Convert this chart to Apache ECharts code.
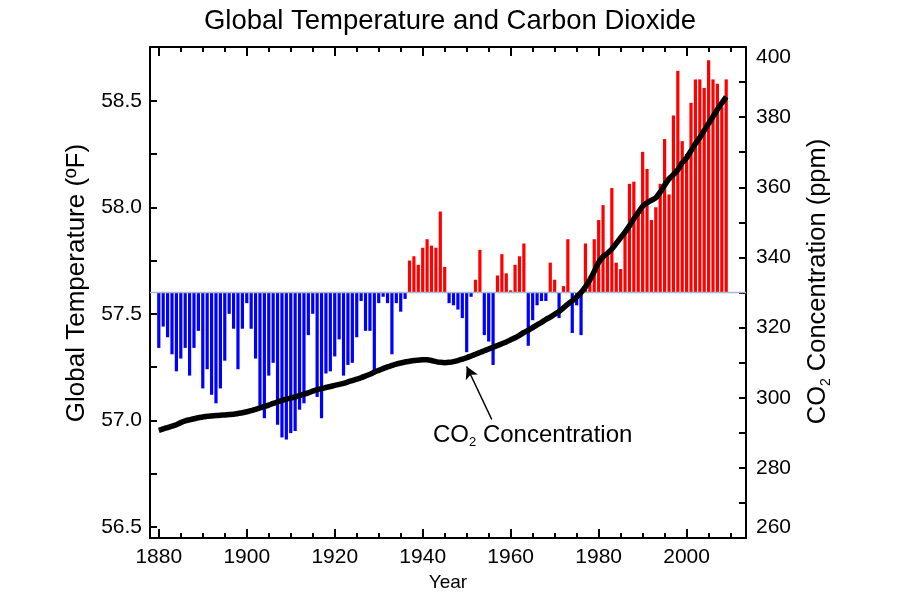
<!DOCTYPE html>
<html><head><meta charset="utf-8">
<script src="https://cdn.jsdelivr.net/npm/echarts@6/dist/echarts.min.js"></script>
<style>html,body{margin:0;padding:0;background:#fff}#c{width:900px;height:600px}</style>
</head><body><div id="c"></div>
<script>
const years = [
1880,1881,1882,1883,1884,1885,1886,1887,1888,1889,
1890,1891,1892,1893,1894,1895,1896,1897,1898,1899,
1900,1901,1902,1903,1904,1905,1906,1907,1908,1909,
1910,1911,1912,1913,1914,1915,1916,1917,1918,1919,
1920,1921,1922,1923,1924,1925,1926,1927,1928,1929,
1930,1931,1932,1933,1934,1935,1936,1937,1938,1939,
1940,1941,1942,1943,1944,1945,1946,1947,1948,1949,
1950,1951,1952,1953,1954,1955,1956,1957,1958,1959,
1960,1961,1962,1963,1964,1965,1966,1967,1968,1969,
1970,1971,1972,1973,1974,1975,1976,1977,1978,1979,
1980,1981,1982,1983,1984,1985,1986,1987,1988,1989,
1990,1991,1992,1993,1994,1995,1996,1997,1998,1999,
2000,2001,2002,2003,2004,2005,2006,2007,2008,2009];

// Global temperature (°F)
const temperature = [
57.34,57.44,57.39,57.31,57.23,57.29,57.34,57.21,57.34,57.42,
57.15,57.24,57.12,57.08,57.15,57.28,57.50,57.43,57.24,57.43,
57.55,57.43,57.29,57.07,57.01,57.21,57.27,56.98,56.92,56.91,
56.94,56.95,57.05,57.08,57.40,57.50,57.11,57.01,57.22,57.23,
57.30,57.38,57.21,57.26,57.27,57.39,57.56,57.42,57.42,57.23,
57.55,57.58,57.55,57.31,57.55,57.51,57.57,57.75,57.77,57.73,
57.81,57.85,57.82,57.81,57.98,57.72,57.55,57.54,57.52,57.48,
57.32,57.58,57.66,57.80,57.40,57.37,57.26,57.68,57.78,57.69,
57.61,57.73,57.77,57.83,57.35,57.47,57.54,57.56,57.56,57.74,
57.66,57.48,57.63,57.85,57.41,57.54,57.40,57.83,57.65,57.85,
57.94,58.01,57.79,58.09,57.74,57.71,57.89,58.11,58.12,57.97,
58.26,58.18,57.94,58.00,58.11,58.32,58.06,58.43,58.64,58.31,
58.25,58.49,58.60,58.60,58.56,58.69,58.60,58.58,58.47,58.60];

// CO2 concentration (ppm)
const co2 = [
290.7,291.1,291.5,291.9,292.3,292.9,293.4,293.7,294.0,294.3,
294.5,294.7,294.8,294.9,295.0,295.1,295.2,295.3,295.5,295.7,
296.0,296.3,296.7,297.1,297.5,297.9,298.4,298.8,299.2,299.6,
299.9,300.2,300.6,301.0,301.4,301.9,302.3,302.6,302.9,303.2,
303.5,303.8,304.1,304.5,304.9,305.3,305.7,306.2,306.7,307.3,
307.8,308.3,308.8,309.2,309.6,309.9,310.2,310.4,310.6,310.7,
310.8,310.8,310.6,310.3,310.1,310.0,310.1,310.3,310.6,311.0,
311.4,311.9,312.4,312.9,313.4,313.9,314.4,314.9,315.4,315.9,
316.5,317.1,317.8,318.6,319.2,320.0,320.8,321.5,322.3,323.0,
323.8,324.6,325.6,326.7,327.6,328.7,330.0,331.6,333.6,336.0,
338.6,340.2,341.2,342.4,344.0,345.6,347.2,349.0,351.0,352.8,
354.6,355.6,356.3,357.0,358.6,360.6,362.4,363.6,365.0,367.0,
368.4,370.4,372.4,374.2,376.2,378.2,380.2,382.2,384.0,385.8];

const baseTemp = 57.6;
const yearTicksMajor = [1880,1900,1920,1940,1960,1980,2000];
const yearTicksMinor = [1880,1885,1890,1895,1900,1905,1910,1915,1920,1925,1930,1935,1940,1945,1950,1955,1960,1965,1970,1975,1980,1985,1990,1995,2000,2005,2010];
const tempTickLabels = [56.5,57.0,57.5,58.0,58.5];
const tempTicks = [56.5,56.75,57.0,57.25,57.5,57.75,58.0,58.25,58.5];
const co2Ticks = [260,270,280,290,300,310,320,330,340,350,360,370,380,390,400];
const annotationText = {at:[1965.0,289.3], arrowFrom:[1955.7,293.8], arrowTo:[1950.0,308.9]};

const X_MIN = 1878, X_MAX = 2013.5;
const T_MIN = 56.448, T_MAX = 58.752;
const FONT = '"Liberation Sans", Arial, sans-serif';

const chart = echarts.init(document.getElementById('c'), null, {renderer:'canvas'});
const black = '#000';
const lineAxis = {show:true, lineStyle:{color:black, width:2}};
function xAx(pos, ticks, len, labels, line){
  return {type:'value', position:pos, min:X_MIN, max:X_MAX,
    axisLine: line ? lineAxis : {show:false},
    axisTick:{show:true, inside:true, length:len, customValues:ticks, lineStyle:{color:black,width:2}},
    axisLabel: labels ? {show:true, customValues:yearTicksMajor, formatter:v=>String(Math.round(v)),
      fontSize:21, color:black, fontFamily:FONT, margin:9} : {show:false},
    splitLine:{show:false}};
}
const xAxes = [
  Object.assign(xAx('bottom', yearTicksMajor, 9, true, true), {name:'Year', nameLocation:'middle', nameGap:35,
     nameTextStyle:{fontSize:19, color:black, fontFamily:FONT}}),
  xAx('bottom', yearTicksMinor, 5, false, false),
  xAx('top', yearTicksMajor, 9, false, true),
  xAx('top', yearTicksMinor, 5, false, false)
];

const option = {
  animation:false,
  backgroundColor:'#fff',
  textStyle:{fontFamily:FONT},
  title:{text:'Global Temperature and Carbon Dioxide', left:'center', top:2,
    textStyle:{fontSize:27.5, fontWeight:'normal', color:black, fontFamily:FONT}},
  grid:{left:150, right:154, top:47, bottom:62, containLabel:false},
  xAxis: xAxes,
  yAxis:[
    {type:'value', position:'left', min:T_MIN, max:T_MAX,
     axisLine:lineAxis,
     axisTick:{show:true, inside:true, length:7, customValues:tempTicks, lineStyle:{color:black,width:2}},
     axisLabel:{show:true, customValues:tempTickLabels, formatter:v=>Number(v).toFixed(1), fontSize:21, color:black, fontFamily:FONT, margin:8},
     splitLine:{show:false},
     name:'Global Temperature (ºF)', nameLocation:'middle', nameRotate:90, nameGap:60,
     nameTextStyle:{fontSize:26, color:black, fontFamily:FONT, padding:[0,0,0,19]}},
    {type:'value', position:'right', min:260, max:400, interval:20,
     axisLine:lineAxis,
     axisTick:{show:true, inside:true, length:7, customValues:co2Ticks, lineStyle:{color:black,width:2}},
     axisLabel:{show:true, fontSize:21, color:black, fontFamily:FONT, margin:10,
       verticalAlignMaxLabel:'top', verticalAlignMinLabel:'bottom'},
     splitLine:{show:false},
     name:'{a|CO}{s|2}{a| Concentration (ppm)}', nameLocation:'middle', nameRotate:90, nameGap:57,
     nameTextStyle:{color:black, fontFamily:FONT, padding:[0,0,0,22],
       rich:{a:{fontSize:25.5, color:black, fontFamily:FONT, lineHeight:30},
             s:{fontSize:14, color:black, fontFamily:FONT, lineHeight:15, verticalAlign:'bottom'}}}}
  ],
  series:[
    {type:'custom', name:'Temperature', xAxisIndex:0, yAxisIndex:0, z:2,
     data: years.map((y,i)=>[y, temperature[i]]),
     renderItem:function(params, api){
       const yr = api.value(0), v = api.value(1);
       const top = api.coord([yr, v]);
       const base = api.coord([yr, baseTemp]);
       const w = api.size([1,0])[0]*0.73;
       return {type:'rect',
         shape:{x:top[0]-w/2, y:Math.min(top[1],base[1]), width:w, height:Math.abs(top[1]-base[1])},
         style:{fill: v >= baseTemp ? '#ff0000' : '#0000ff'}};
     }},
    {type:'line', name:'baseline', xAxisIndex:0, yAxisIndex:0, z:3, silent:true,
     data:[[X_MIN, baseTemp],[X_MAX, baseTemp]], symbol:'none',
     lineStyle:{color:'#aab6d0', width:1.5}},
    {type:'line', name:'CO2', xAxisIndex:0, yAxisIndex:1, z:5,
     data: years.map((y,i)=>[y, co2[i]]), symbol:'none', smooth:0.2,
     lineStyle:{color:black, width:5.5, join:'round', cap:'butt'},
     markLine:{silent:true, symbol:['none','arrow'], symbolSize:[10,12],
       lineStyle:{color:black, width:1.5, type:'solid'}, label:{show:false},
       data:[[{coord:annotationText.arrowFrom},{coord:annotationText.arrowTo}]]},
     markPoint:{silent:true, symbol:'circle', symbolSize:1, itemStyle:{color:'rgba(0,0,0,0)'},
       label:{show:true, position:'inside', formatter:'{a|CO}{s|2}{a| Concentration}',
         rich:{a:{fontSize:24, color:black, fontFamily:FONT, lineHeight:28},
               s:{fontSize:13, color:black, fontFamily:FONT, lineHeight:13, verticalAlign:'bottom'}}},
       data:[{coord:annotationText.at}]}}
  ]
};
chart.setOption(option);
</script>
</body></html>
